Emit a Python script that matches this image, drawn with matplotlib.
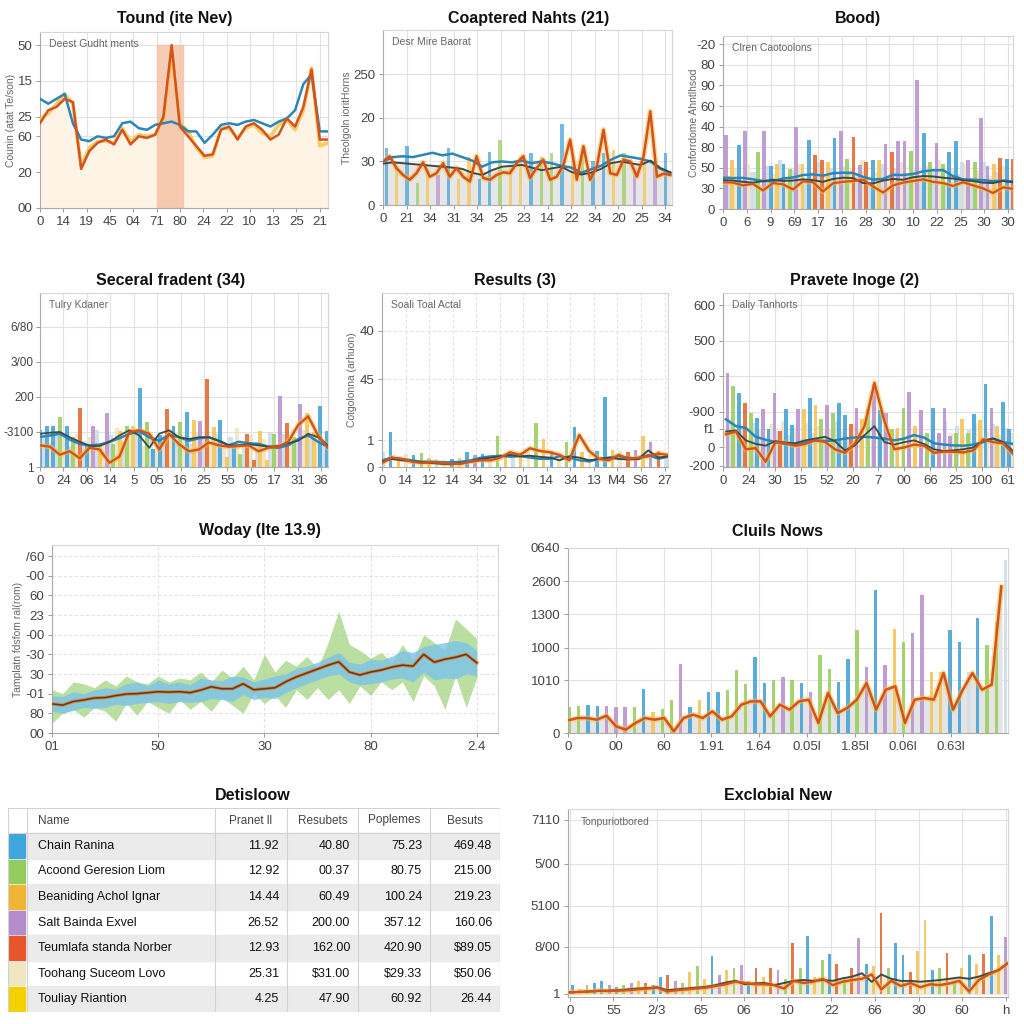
import matplotlib.pyplot as plt
import numpy as np

plt.rcParams["font.family"] = ["Liberation Sans", "DejaVu Sans"]

COLORS = {
    "b": "#48a3d8", "g": "#9ccf63", "y": "#f3c55a", "p": "#b994d0",
    "o": "#e36b33", "l": "#cfdde8", "c": "#efe5c6", "k": "#f5d000",
}
LINE_BLUE = "#2a86b8"
LINE_ORANGE = "#d4521f"
GLOW = "#f6c244"
DARK = "#3f4a45"

# ---------------- panel 1: Tound (ite Nev)
P1_BLUE = [67, 64, 67, 70, 52, 42, 41, 44, 43, 44, 52, 53, 49, 48, 51, 52, 53, 51,
           47, 47, 40, 45, 51, 52, 51, 53, 54, 52, 50, 53, 55, 60, 76, 82, 47, 47]
P1_ORANGE = [52, 60, 62, 67, 65, 24, 35, 40, 42, 39, 48, 39, 44, 43, 45, 56, 100, 50,
             44, 38, 32, 33, 48, 50, 42, 50, 52, 48, 42, 45, 55, 50, 62, 85, 42, 42]
P1_YELLOW = [55, 58, 64, 70, 64, 26, 37, 41, 41, 40, 49, 41, 45, 44, 45, 55, 96, 52,
             47, 37, 31, 32, 49, 49, 43, 49, 51, 46, 44, 51, 54, 48, 60, 86, 38, 40]
P1_SPAN = (14.2, 17.4)
P1_XLABELS = ["0", "14", "19", "45", "04", "71", "80", "24", "22", "10", "13", "25", "21"]
P1_YLABELS = ["00", "20", "60", "25", "15", "50"]
P1_YTICKS = [0, 22, 44, 56, 78, 100]

# ---------------- panel 2: Coaptered Nahts (21)
P2_ORANGE = [10, 11.2, 8.5, 6.9, 5.8, 7.3, 9.8, 6.5, 7.3, 9.6, 6.5, 8.5, 6.5, 5.4, 11.2,
             6.2, 5.8, 6.9, 7.5, 7.3, 9.6, 11.2, 6.2, 8.5, 10.4, 5.8, 6.5, 9.2, 15, 5.8,
             13.5, 5.8, 8.8, 17.3, 7.3, 6.9, 10.4, 10, 6.5, 11.2, 21.5, 6.5, 7.2, 6.9]
P2_BLUE = [10, 11, 11.2, 11, 11.5, 12, 11.4, 11.8, 11, 10.2, 8.8, 9.8, 10, 9.8, 10.2,
           9.6, 10, 9.6, 9, 8.6, 7.4, 8.2, 9, 10.4, 11.4, 11, 10.6, 10, 8.3, 7.4]
P2_DARK = [9.5, 9.8, 9.6, 9.4, 9.2, 9.0, 8.8, 8.6, 8.3, 7.4, 6.9, 8.0, 8.8, 9.0, 9.2,
           8.6, 8.0, 8.4, 8.8, 7.6, 7.0, 7.4, 8.3, 9.6, 10.0, 9.6, 9.2, 10.2, 8.5, 7.5]
P2_BARS = [13, 9, 13.5, 5, 8, 7, 13, 6, 11, 6, 12.2, 15, 9, 11, 12, 11, 12, 18.5, 10,
           12, 10, 12, 12.7, 12, 8, 10, 10, 12]
P2_CODES = ["b", "y", "b", "g", "y", "p", "b", "y", "y", "b", "b", "g", "y", "y", "b",
            "g", "g", "b", "y", "g", "b", "b", "y", "g", "p", "y", "p", "b"]
P2_XLABELS = ["0", "21", "34", "31", "34", "25", "23", "14", "22", "34", "20", "25", "34"]
P2_YLABELS = ["0", "30", "20", "250"]

# ---------------- panel 3: Bood)
P3_BARS = [35.8, 24, 31, 38, 18, 27.6, 37.7, 21, 22, 22, 19.5, 40, 22, 33.5, 26, 23.6,
           22.8, 34.5, 37.7, 24.4, 35, 21.6, 22.8, 23.6, 24, 31.7, 27.8, 33, 33, 28,
           62.8, 37, 23, 32, 22, 27.6, 32.8, 22.8, 23.6, 23, 44.4, 21, 22, 25, 24.4, 24.4]
P3_CODES = ["p", "y", "b", "p", "l", "g", "p", "b", "y", "b", "g", "p", "y", "b", "o", "o",
            "y", "b", "p", "g", "o", "p", "o", "b", "y", "p", "o", "p", "p", "g",
            "p", "b", "g", "p", "g", "b", "b", "l", "p", "g", "p", "p", "y", "o", "b", "o"]
P3_PALE = [16, 20, 14, 22, 18, 12, 21, 17, 24, 15, 19, 22, 13, 18, 23, 16, 20, 14, 21,
           19, 17, 24, 12, 18, 22, 15, 20, 23, 16, 19, 14, 21, 18, 24, 13, 20, 17, 22,
           15, 19, 23, 16, 18, 21, 14]
P3_BLUE = [15.2, 15.0, 15.1, 14.4, 13.6, 13.5, 14.8, 15.3, 16.5, 16.8, 16.2, 17.4, 17.6,
           17.5, 15.6, 14.3, 14.6, 16.6, 16.5, 17.0, 18.3, 18.8, 18.9, 16.0, 14.4, 14.2,
           14.0, 13.5, 13.8, 13.4]
P3_ORANGE = [13.0, 12.8, 11.5, 12.2, 9.0, 12.6, 12.0, 9.5, 13.5, 13.0, 8.5, 12.5, 13.2,
             13.6, 14.2, 11.0, 8.0, 11.5, 12.8, 13.6, 14.4, 13.2, 12.6, 11.2, 13.0, 11.5,
             10.0, 7.8, 10.5, 9.8]
P3_DARK = [14.0, 13.8, 13.2, 12.8, 13.5, 14.2, 13.6, 13.8, 14.4, 14.0, 13.2, 14.6, 15.2,
           15.0, 12.6, 12.4, 13.8, 14.6, 14.2, 15.4, 16.0, 15.8, 15.2, 14.8, 14.0, 13.6,
           12.8, 12.6, 13.6, 13.0]
P3_XLABELS = ["0", "6", "9", "69", "17", "16", "28", "30", "10", "22", "25", "30", "30"]
P3_YLABELS = ["0", "30", "50", "80", "40", "60", "90", "80", "-20"]

# ---------------- panel 4: Seceral fradent (34)
P4_BARS = [1.05, 1.17, 1.16, 1.43, 1.16, 0.86, 1.69, 0.67, 1.17, 0.62, 1.55, 0.67, 1.03,
           1.16, 1.17, 2.27, 1.29, 0.52, 0.92, 1.67, 1.16, 1.29, 1.57, 1.33, 1.31, 2.5,
           1.14, 1.33, 0.29, 0.57, 0.38, 0.95, 0.19, 1.03, 0.19, 0.95, 2.02, 1.27, 0.86,
           1.79, 1.55, 1.0, 1.73, 1.03]
P4_CODES = ["b", "b", "b", "g", "b", "g", "o", "b", "p", "y", "p", "g", "y", "g", "y",
            "b", "g", "b", "b", "o", "b", "g", "b", "y", "p", "o", "y", "b", "y", "b",
            "g", "o", "o", "y", "y", "g", "p", "o", "g", "p", "y", "y", "b", "b"]
P4_PALE = [0.9, 0.7, 1.0, 0.8, 0.6, 0.95, 0.75, 0.85, 1.05, 0.65, 0.9, 1.1, 0.7, 0.8, 1.0,
           0.6, 0.95, 0.85, 0.7, 1.05, 0.75, 0.9, 0.65, 1.0, 0.8, 0.7, 0.95, 0.6, 0.85,
           1.1, 0.75, 0.9, 0.7, 0.8, 1.0, 0.65, 0.95, 0.85, 0.7, 1.05, 0.8, 0.9, 0.75]
P4_BLUE = [0.86, 0.9, 0.95, 0.78, 0.66, 0.62, 0.64, 0.72, 0.82, 0.95, 1.02, 0.85, 0.75,
           0.92, 0.85, 0.75, 0.82, 0.85, 0.75, 0.62, 0.72, 0.68, 0.66, 0.58, 0.55, 0.62,
           0.8, 0.9, 0.72, 0.58]
P4_ORANGE = [0.62, 0.58, 0.35, 0.45, 0.25, 0.55, 0.5, 0.12, 0.3, 1.0, 1.05, 0.95, 0.5,
             0.95, 0.65, 0.45, 0.5, 0.7, 0.62, 0.58, 0.6, 0.62, 0.45, 0.55, 0.58, 0.72,
             1.2, 1.45, 0.9, 0.55]
P4_DARK = [0.95, 0.98, 1.0, 0.85, 0.72, 0.6, 0.6, 0.72, 0.9, 1.05, 0.9, 0.55, 0.95, 1.05,
           0.85, 0.8, 0.85, 0.85, 0.75, 0.62, 0.62, 0.65, 0.62, 0.58, 0.6, 0.68, 0.75,
           0.95, 0.85, 0.62]
P4_XLABELS = ["0", "24", "06", "14", "5", "05", "16", "25", "55", "05", "17", "31", "36"]
P4_YLABELS = ["1", "-3100", "200", "3/00", "6/80"]

# ---------------- panel 5: Results (3)
P5_BARS = [0.55, 1.29, 0.3, 0.5, 0.45, 0.52, 0.35, 0.3, 0.25, 0.3, 0.35, 0.56, 0.45, 0.5,
           0.4, 1.16, 0.45, 0.5, 0.55, 0.6, 1.66, 1.04, 0.6, 0.5, 0.94, 1.5, 0.55, 0.45,
           0.6, 2.62, 0.65, 0.6, 0.55, 0.65, 1.15, 0.94, 0.6, 0.5]
P5_CODES = ["l", "b", "y", "c", "b", "g", "y", "l", "c", "b", "y", "b", "p", "b", "c", "g",
            "y", "l", "y", "c", "g", "y", "b", "c", "g", "b", "y", "c", "b", "b", "y", "c",
            "o", "p", "y", "p", "o", "l"]
P5_ORANGE = [0.15, 0.35, 0.3, 0.2, 0.15, 0.18, 0.15, 0.12, 0.12, 0.2, 0.25, 0.25, 0.35,
             0.55, 0.45, 0.7, 0.6, 0.55, 0.45, 0.25, 1.2, 0.6, 0.3, 0.25, 0.45, 0.3, 0.35,
             0.4, 0.5, 0.45]
P5_DARK = [0.2, 0.3, 0.25, 0.22, 0.18, 0.15, 0.12, 0.1, 0.15, 0.2, 0.3, 0.35, 0.4, 0.45,
           0.4, 0.42, 0.38, 0.35, 0.25, 0.4, 0.35, 0.25, 0.3, 0.35, 0.3, 0.28, 0.3, 0.62,
           0.35, 0.4]
P5_BLUE = [0.25, 0.35, 0.3, 0.25, 0.2, 0.2, 0.18, 0.18, 0.2, 0.25, 0.35, 0.4, 0.42, 0.38,
           0.4, 0.35, 0.3, 0.3, 0.4, 0.35, 0.25, 0.2, 0.3, 0.35, 0.4, 0.35, 0.3, 0.45,
           0.3, 0.38]
P5_XLABELS = ["0", "14", "12", "14", "34", "32", "01", "14", "34", "13", "M4", "S6", "27"]
P5_YLABELS = ["0", "1", "45", "40"]
P5_YTICKS = [0, 1, 3.275, 5.09]

# ---------------- panel 6: Pravete Inoge (2)
P6_BARS = [210, 173, 154, 126, 96, 84, 109, 51, 154, 47, 107, 64, 107, 109, 140, 121, 81,
           121, 98, 124, 91, 65, 110, 79, 109, 178, 105, 98, 51, 56, 110, 156, 61, 105,
           42, 110, 42, 110, 33, 42, 79, 42, 93, 77, 179, 111, 61, 128, 51]
P6_CODES = ["p", "g", "b", "o", "g", "b", "p", "b", "p", "o", "b", "b", "p", "y", "b", "y",
            "g", "p", "g", "b", "b", "o", "p", "y", "g", "p", "b", "p", "g", "y", "g", "p",
            "y", "p", "g", "b", "p", "p", "p", "g", "y", "g", "b", "y", "b", "p", "y", "b",
            "b"]
P6_PALE = [80, 40, 60, 30, 70, 50, 20, 65, 45, 75, 35, 55, 25, 70, 40, 60, 30, 50, 75,
           45, 20, 65, 35, 55, 80, 40, 60, 25, 50, 70, 30, 45, 65, 20, 55, 35, 75, 40,
           60, 30, 50, 70, 25, 45, 65, 35, 55, 40]
P6_ORANGE = [37, 45, -5, -2, -40, 15, 12, 5, 10, 20, 16, -5, -15, 10, 60, 182, 75, -5, 0,
             8, 5, -15, -12, -12, -14, -8, 23, 15, 12, -18]
P6_BLUE = [79, 60, 55, 30, 22, 15, 10, 8, 15, 20, 18, 20, 25, 28, 30, 28, 25, 20, 25, 35,
           28, 12, 8, 6, 5, 8, 15, 25, 15, 10]
P6_DARK = [45, 48, 20, 10, 5, 18, 14, 12, 20, 25, 30, 18, -8, 5, 35, 60, 15, 8, 15, 20,
           10, -5, -10, -8, -5, 0, 20, 25, 15, -10]
P6_XLABELS = ["0", "24", "30", "15", "52", "20", "7", "00", "66", "25", "100", "61"]
P6_YLABELS = ["600", "500", "600", "-900", "f1", "0", "-200"]
P6_YTICKS = [400, 300, 200, 100, 53, 0, -51]

# ---------------- panel 7: Woday (Ite 13.9)
P7_CENTER = [1.48, 1.42, 1.6, 1.68, 1.78, 1.8, 1.9, 1.98, 2.0, 2.05, 2.1, 2.08, 2.1, 2.05,
             2.18, 2.35, 2.25, 2.25, 2.5, 2.2, 2.25, 2.3, 2.6, 2.85, 3.05, 3.25, 3.45, 3.62,
             3.1, 2.95, 3.1, 3.2, 3.35, 3.45, 3.4, 4.0, 3.6, 3.75, 3.85, 4.0, 3.57]
P7_BLUE_HI = [1.9, 1.85, 2.1, 2.0, 2.2, 2.3, 2.25, 2.5, 2.6, 2.4, 2.7, 2.5, 2.6, 2.45, 2.8,
              2.7, 2.65, 2.9, 2.85, 2.6, 2.75, 2.9, 3.0, 3.3, 3.4, 3.6, 3.85, 4.1, 3.6,
              3.5, 3.75, 3.7, 3.9, 4.2, 4.1, 4.4, 4.5, 4.6, 4.7, 4.6, 4.2]
P7_BLUE_LO = [1.1, 1.0, 1.15, 1.3, 1.25, 1.3, 1.45, 1.4, 1.5, 1.55, 1.6, 1.5, 1.6, 1.55,
              1.6, 1.75, 1.7, 1.6, 1.95, 1.7, 1.8, 1.75, 2.05, 2.3, 2.5, 2.7, 2.9, 3.0, 2.6,
              2.45, 2.5, 2.6, 2.75, 2.8, 2.6, 3.1, 2.7, 2.8, 2.75, 3.0, 2.9]
P7_GREEN_HI = [2.2, 2.0, 2.6, 2.5, 2.3, 2.7, 2.4, 2.9, 2.6, 2.5, 2.9, 2.6, 2.8, 2.7, 3.1,
               2.6, 3.2, 2.8, 3.4, 2.7, 4.0, 3.1, 3.7, 3.4, 3.9, 3.3, 4.6, 6.2, 4.5, 4.2,
               3.8, 4.1, 3.6, 4.5, 3.7, 5.0, 4.6, 4.2, 5.8, 5.3, 4.8]
P7_GREEN_LO = [0.5, 1.0, 1.2, 0.8, 1.3, 1.1, 0.6, 1.5, 0.9, 1.6, 1.3, 1.0, 1.7, 1.2, 1.6,
               1.1, 1.8, 1.4, 1.0, 2.0, 1.5, 1.9, 1.3, 2.2, 1.7, 2.3, 1.7, 2.2, 1.5, 2.4,
               1.9, 2.6, 2.2, 2.6, 1.6, 2.9, 2.4, 1.2, 2.9, 1.3, 2.8]
P7_XLABELS = ["01", "50", "30", "80", "2.4"]
P7_YLABELS = ["00", "80", "-01", "30", "-30", "-00", "23", "60", "-00", "/60"]

# ---------------- panel 8: Cluils Nows
P8_ORANGE = [0.38, 0.45, 0.45, 0.4, 0.52, 0.2, 0.1, 0.3, 0.45, 0.4, 0.45, 0.05, 0.45,
             0.55, 0.45, 0.65, 0.4, 0.5, 0.85, 0.95, 0.95, 0.5, 0.85, 0.7, 0.95, 1.0, 0.3,
             1.2, 0.6, 0.75, 1.0, 1.5, 0.7, 1.3, 1.4, 0.3, 1.0, 1.05, 1.0, 1.8, 0.7, 1.3,
             1.8, 1.3, 1.45, 4.4]
P8_BARS = [0.78, 0.8, 0.83, 0.8, 0.8, 0.78, 0.78, 0.78, 1.33, 0.63, 0.73, 0.98, 2.08,
           0.78, 1.0, 1.23, 1.23, 1.28, 1.88, 1.48, 2.28, 1.5, 1.58, 1.68, 1.58, 1.5, 1.23,
           2.33, 1.93, 1.53, 2.23, 3.08, 1.98, 4.28, 2.03, 3.13, 2.73, 3.0, 4.13, 1.83,
           1.83, 3.08, 2.73, 1.83, 3.46, 2.63, 3.33, 5.18]
P8_CODES = ["g", "g", "b", "b", "p", "p", "p", "g", "b", "y", "g", "g", "p", "b", "y", "b",
            "b", "g", "g", "g", "b", "b", "g", "p", "g", "b", "p", "g", "g", "b", "b", "g",
            "p", "b", "p", "y", "g", "p", "p", "y", "y", "b", "b", "l", "b", "g", "g", "l"]
P8_XLABELS = ["0", "00", "60", "1.91", "1.64", "0.05l", "1.85l", "0.06l", "0.63l"]
P8_YLABELS = ["0", "1010", "1000", "1300", "2600", "0640"]
P8_YTICKS = [0, 1.58, 2.56, 3.56, 4.55, 5.55]

# ---------------- table: Detisloow
TABLE_HEADER = ["Name", "Pranet ll", "Resubets", "Poplemes", "Besuts"]
TABLE_NAMES = ["Chain Ranina", "Acoond Geresion Liom", "Beaniding Achol Ignar",
               "Salt Bainda Exvel", "Teumlafa standa Norber", "Toohang Suceom Lovo",
               "Touliay Riantion"]
TABLE_COL1 = ["11.92", "12.92", "14.44", "26.52", "12.93", "25.31", "4.25"]
TABLE_COL2 = ["40.80", "00.37", "60.49", "200.00", "162.00", "$31.00", "47.90"]
TABLE_COL3 = ["75.23", "80.75", "100.24", "357.12", "420.90", "$29.33", "60.92"]
TABLE_COL4 = ["469.48", "215.00", "219.23", "160.06", "$89.05", "$50.06", "26.44"]
TABLE_SWATCH = ["#3fa6dd", "#93cc5c", "#f0b535", "#b58ccb", "#e5542a", "#efe6c4", "#f5d000"]

# ---------------- panel 10: Exclobial New
P10_ORANGE = [0.03, 0.04, 0.05, 0.07, 0.06, 0.07, 0.08, 0.1, 0.12, 0.14, 0.05, 0.08, 0.1,
              0.12, 0.14, 0.18, 0.22, 0.28, 0.25, 0.22, 0.22, 0.2, 0.12, 0.3, 0.25, 0.28,
              0.35, 0.2, 0.28, 0.32, 0.35, 0.45, 0.1, 0.3, 0.18, 0.25, 0.15, 0.22, 0.2,
              0.24, 0.3, 0.05, 0.32, 0.45, 0.55, 0.72]
P10_DARK = [0.03, 0.04, 0.05, 0.06, 0.07, 0.08, 0.1, 0.12, 0.13, 0.15, 0.08, 0.1, 0.12,
            0.14, 0.16, 0.2, 0.26, 0.3, 0.22, 0.24, 0.25, 0.2, 0.25, 0.3, 0.32, 0.3, 0.32,
            0.3, 0.36, 0.4, 0.48, 0.28, 0.45, 0.35, 0.3, 0.3, 0.28, 0.3, 0.32, 0.35, 0.38,
            0.35, 0.4, 0.48, 0.55, 0.72]
P10_BARS = [0.2, 0.1, 0.2, 0.25, 0.3, 0.2, 0.15, 0.2, 0.25, 0.3, 0.25, 0.2, 0.4, 0.45,
            0.3, 0.25, 0.5, 0.65, 0.35, 0.88, 0.45, 0.55, 0.6, 0.67, 0.3, 0.6, 0.4, 0.6,
            0.55, 0.35, 1.2, 0.6, 1.35, 0.4, 0.8, 0.94, 0.7, 0.4, 0.6, 1.3, 0.7, 0.65, 1.9,
            0.6, 1.2, 0.9, 0.5, 1.0, 1.73, 0.55, 0.6, 0.95, 0.3, 0.6, 0.9, 0.7, 0.94, 1.83,
            0.9, 1.34]
P10_CODES = ["b", "y", "g", "b", "b", "p", "b", "g", "p", "y", "o", "b", "b", "o", "p",
             "g", "y", "g", "y", "b", "p", "y", "g", "p", "b", "o", "y", "o", "p", "g",
             "o", "g", "b", "y", "g", "b", "o", "g", "o", "p", "b", "y", "o", "g", "b",
             "b", "o", "y", "y", "b", "g", "o", "g", "y", "b", "y", "o", "b", "y", "p"]
P10_XLABELS = ["0", "55", "2/3", "65", "06", "10", "22", "66", "30", "60", "h"]
P10_YLABELS = ["1", "8/00", "5100", "5/00", "7110"]
P10_YTICKS = [0, 1.1, 2.07, 3.06, 4.1]


def px_rect(left, top, right, bottom):
    return [left / 1024, 1 - bottom / 1024, (right - left) / 1024, (bottom - top) / 1024]


def style_axes(ax, xticks, xlabels, yticks, ylabels, grid_style="-"):
    ax.set_xticks(xticks, xlabels)
    ax.set_yticks(yticks, ylabels)
    ax.tick_params(labelsize=9.5, colors="#999999", labelcolor="#444444",
                   length=3, width=0.7, pad=2.5)
    for spine in ax.spines.values():
        spine.set_color("#d6d6d6")
        spine.set_linewidth(0.8)
    ax.spines["left"].set_color("#aaaaaa")
    ax.spines["bottom"].set_color("#aaaaaa")
    ax.grid(True, color="#e2e2e2", linewidth=0.8, linestyle=grid_style)
    ax.set_axisbelow(True)


def draw_bars(ax, x, heights, codes, width, bottom=0.0, alpha=0.9):
    heights = np.asarray(heights, dtype=float)
    ax.bar(x, heights - bottom, width=width, bottom=bottom,
           color=[COLORS[c] for c in codes], alpha=alpha, zorder=2, linewidth=0)


def draw_pale(ax, x, heights, width, bottom=0.0):
    heights = np.asarray(heights, dtype=float)
    shades = [COLORS["l"] if i % 2 == 0 else COLORS["c"] for i in range(len(heights))]
    ax.bar(x, heights - bottom, width=width, bottom=bottom, color=shades,
           alpha=0.9, zorder=1.5, linewidth=0)


def glow_line(ax, x, y, lw=1.8):
    ax.plot(x, y, color=GLOW, linewidth=lw + 2.2, alpha=0.55, zorder=3,
            solid_capstyle="round")
    ax.plot(x, y, color=LINE_ORANGE, linewidth=lw, zorder=4)


def note(ax, text):
    ax.text(0.03, 0.96, text, transform=ax.transAxes, fontsize=7.5, color="#666666",
            va="top", ha="left", zorder=6)


def side_label(ax, text, xpos):
    ax.text(xpos, 0.5, text, transform=ax.transAxes, rotation=90, fontsize=7.5,
            color="#666666", va="center", ha="center")


fig = plt.figure(figsize=(10.24, 10.24), dpi=100)
fig.patch.set_facecolor("white")

TITLES = [
    ("Tound (ite Nev)", 175, 18), ("Coaptered Nahts (21)", 529, 18), ("Bood)", 858, 18),
    ("Seceral fradent (34)", 171, 280), ("Results (3)", 515, 280),
    ("Pravete Inoge (2)", 855, 280), ("Woday (Ite 13.9)", 260, 531),
    ("Cluils Nows", 778, 531), ("Detisloow", 253, 795), ("Exclobial New", 778, 795),
]
for text, cx, cy in TITLES:
    fig.text(cx / 1024, 1 - cy / 1024, text, fontsize=11.5, fontweight="bold",
             ha="center", va="center", color="#111111")

# panel 1
ax = fig.add_axes(px_rect(40, 32, 328, 208))
x = np.arange(len(P1_ORANGE))
ax.set_xlim(0, len(x) - 1)
ax.set_ylim(0, 108)
ax.fill_between(x, P1_ORANGE, color="#fdf4e6", zorder=1)
ax.axvspan(*P1_SPAN, ymax=100 / 108, color="#f6c3a7", alpha=0.85, zorder=1.5)
ax.plot(x, P1_YELLOW, color=GLOW, linewidth=2.6, alpha=0.8, zorder=3)
ax.plot(x, P1_BLUE, color=LINE_BLUE, linewidth=1.8, zorder=3.5)
ax.plot(x, P1_ORANGE, color=LINE_ORANGE, linewidth=1.8, zorder=4)
style_axes(ax, np.linspace(0, 34, len(P1_XLABELS)), P1_XLABELS, P1_YTICKS, P1_YLABELS)
note(ax, "Deest Gudht ments")
side_label(ax, "Counin (atat Te/son)", -0.1)

# panel 2
ax = fig.add_axes(px_rect(383, 30, 672, 205))
xo = np.arange(len(P2_ORANGE))
xl = np.linspace(0, len(P2_ORANGE) - 1, len(P2_BLUE))
ax.set_xlim(0, 43.25)
ax.set_ylim(0, 40.2)
ax.fill_between(xl, P2_DARK, color="#e6e6e6", zorder=1)
draw_bars(ax, np.linspace(0.5, 42.25, len(P2_BARS)), P2_BARS, P2_CODES, 0.5, alpha=0.75)
ax.plot(xl, P2_BLUE, color=LINE_BLUE, linewidth=1.8, zorder=3.5)
ax.plot(xl, P2_DARK, color=DARK, linewidth=1.4, zorder=3.6)
glow_line(ax, xo, P2_ORANGE)
style_axes(ax, np.linspace(0, 42.25, len(P2_XLABELS)), P2_XLABELS, [0, 10, 20, 30],
           P2_YLABELS)
note(ax, "Desr Mire Baorat")
side_label(ax, "Theolgoln ioritHorns", -0.125)

# panel 3
ax = fig.add_axes(px_rect(723, 36, 1013, 209))
ax.set_xlim(0, 29)
ax.set_ylim(0, 84)
draw_pale(ax, np.linspace(0.6, 28.6, len(P3_PALE)), P3_PALE, 0.45)
draw_bars(ax, np.linspace(0.3, 29.0, len(P3_BARS)), P3_BARS, P3_CODES, 0.38)
xl = np.linspace(0, 29, len(P3_BLUE))
ax.plot(xl, P3_BLUE, color=LINE_BLUE, linewidth=1.8, zorder=3.5)
ax.plot(xl, P3_DARK, color=DARK, linewidth=1.4, zorder=3.6)
glow_line(ax, xl, P3_ORANGE, lw=1.6)
style_axes(ax, np.linspace(0, 28.5, len(P3_XLABELS)), P3_XLABELS,
           np.arange(0, 90, 10), P3_YLABELS)
note(ax, "Clren Caotoolons")
side_label(ax, "Conforrdome Ahntlhsod", -0.1)

# panel 4
ax = fig.add_axes(px_rect(40, 293, 328, 467))
ax.set_xlim(0, 29)
ax.set_ylim(0, 4.97)
draw_pale(ax, np.linspace(0.35, 28.6, len(P4_PALE)), P4_PALE, 0.45)
draw_bars(ax, np.linspace(0, 28.9, len(P4_BARS)), P4_BARS, P4_CODES, 0.4)
xl = np.linspace(0, 29, len(P4_BLUE))
ax.plot(xl, P4_BLUE, color=LINE_BLUE, linewidth=1.8, zorder=3.5)
ax.plot(xl, P4_DARK, color=DARK, linewidth=1.3, zorder=3.6)
glow_line(ax, xl, P4_ORANGE, lw=1.7)
style_axes(ax, np.linspace(0, 28.3, len(P4_XLABELS)), P4_XLABELS, [0, 1, 2, 3, 4],
           P4_YLABELS)
ax.tick_params(axis="y", labelsize=8.5, pad=1.5)
note(ax, "Tulry Kdaner")

# panel 5
ax = fig.add_axes(px_rect(382, 293, 668, 467))
ax.set_xlim(0, 29)
ax.set_ylim(0, 6.5)
draw_bars(ax, np.linspace(0.1, 28.8, len(P5_BARS)), P5_BARS, P5_CODES, 0.35)
xl = np.linspace(0, 29, len(P5_BLUE))
ax.plot(xl, P5_BLUE, color=LINE_BLUE, linewidth=1.6, zorder=3.5)
ax.plot(xl, P5_DARK, color=DARK, linewidth=1.4, zorder=3.6)
glow_line(ax, xl, P5_ORANGE, lw=1.7)
style_axes(ax, np.linspace(0, 28.65, len(P5_XLABELS)), P5_XLABELS, P5_YTICKS,
           P5_YLABELS, grid_style=(0, (3, 2)))
note(ax, "Soali Toal Actal")
side_label(ax, "Cotgolonna (arhuon)", -0.105)

# panel 6
ax = fig.add_axes(px_rect(723, 293, 1013, 467))
ax.set_xlim(0, 29)
ax.set_ylim(-55, 435)
draw_pale(ax, np.linspace(0.6, 28.8, len(P6_PALE)), P6_PALE, 0.45, bottom=-55)
draw_bars(ax, np.linspace(0.45, 28.6, len(P6_BARS)), P6_BARS, P6_CODES, 0.38, bottom=-55)
xl = np.linspace(0.3, 29, len(P6_BLUE))
ax.plot(xl, P6_BLUE, color=LINE_BLUE, linewidth=1.8, zorder=3.5)
ax.plot(xl, P6_DARK, color=DARK, linewidth=1.3, zorder=3.6)
glow_line(ax, xl, P6_ORANGE, lw=1.7)
style_axes(ax, np.linspace(0, 28.5, len(P6_XLABELS)), P6_XLABELS, P6_YTICKS, P6_YLABELS)
note(ax, "Daliy Tanhorts")

# panel 7
ax = fig.add_axes(px_rect(52, 545, 498, 733))
x = np.linspace(0, 4, len(P7_CENTER))
ax.set_xlim(0, 4.2)
ax.set_ylim(0, 9.56)
ax.fill_between(x, P7_GREEN_LO, P7_GREEN_HI, color="#a9d78a", alpha=0.8, zorder=1,
                linewidth=0)
ax.fill_between(x, P7_BLUE_LO, P7_BLUE_HI, color="#7cc3ea", alpha=0.8, zorder=2,
                linewidth=0)
ax.plot(x, P7_CENTER, color="#e0802a", linewidth=2.4, zorder=3)
ax.plot(x, P7_CENTER, color="#5a3a2c", linewidth=1.1, zorder=4)
style_axes(ax, [0, 1, 2, 3, 4], P7_XLABELS, np.arange(10), P7_YLABELS,
           grid_style=(0, (3, 2)))
side_label(ax, "Tamplatn fdsfom ral(rom)", -0.076)

# panel 8
ax = fig.add_axes(px_rect(568, 548, 1008, 733))
ax.set_xlim(0, 9.2)
ax.set_ylim(0, 5.55)
xl = np.linspace(0, 9.06, len(P8_ORANGE))
ax.fill_between(xl, P8_ORANGE, color="#e4e4e4", zorder=1)
draw_bars(ax, np.linspace(0.03, 9.15, len(P8_BARS)), P8_BARS, P8_CODES, 0.07)
glow_line(ax, xl, P8_ORANGE, lw=1.8)
style_axes(ax, np.arange(len(P8_XLABELS)), P8_XLABELS, P8_YTICKS, P8_YLABELS)

# table
tax = fig.add_axes(px_rect(8, 808, 500, 1012))
tax.set_xlim(0, 492)
tax.set_ylim(204, 0)
tax.axis("off")
col_edges = [0, 19, 207, 279, 350, 422, 492]
header_h = 25
row_h = (204 - header_h) / len(TABLE_NAMES)
values = [TABLE_COL1, TABLE_COL2, TABLE_COL3, TABLE_COL4]
tax.text(30, header_h / 2, TABLE_HEADER[0], fontsize=8.5, color="#444444", va="center")
for j, head in enumerate(TABLE_HEADER[1:]):
    cx = (col_edges[j + 2] + col_edges[j + 3]) / 2
    tax.text(cx, header_h / 2, head, fontsize=8.5, color="#444444", va="center",
             ha="center")
for i, name in enumerate(TABLE_NAMES):
    top = header_h + i * row_h
    if i % 2 == 0:
        tax.add_patch(plt.Rectangle((19, top), 473, row_h, color="#ebebeb", zorder=0))
    tax.add_patch(plt.Rectangle((1, top + 1), 16, row_h - 2, color=TABLE_SWATCH[i],
                                zorder=1))
    tax.text(30, top + row_h / 2, name, fontsize=9, color="#111111", va="center")
    for j, col in enumerate(values):
        tax.text(col_edges[j + 3] - 8, top + row_h / 2, col[i], fontsize=9,
                 color="#111111", va="center", ha="right")
for xe in col_edges[1:]:
    tax.plot([xe, xe], [0, 204], color="#d2d2d2", linewidth=0.8, zorder=2)
tax.plot([0, 492, 492, 0, 0], [0, 0, 204, 204, 0], color="#d2d2d2", linewidth=0.8,
         zorder=2)
tax.plot([0, 492], [header_h, header_h], color="#d2d2d2", linewidth=0.8, zorder=2)

# panel 10
ax = fig.add_axes(px_rect(568, 809, 1008, 997))
ax.set_xlim(0, 10.1)
ax.set_ylim(-0.08, 4.35)
xl = np.linspace(0.04, 10.1, len(P10_ORANGE))
ax.fill_between(xl, P10_DARK, color="#eeeadc", zorder=1)
draw_bars(ax, np.linspace(0.1, 10.05, len(P10_BARS)), P10_BARS, P10_CODES, 0.065)
ax.plot(xl, P10_DARK, color=DARK, linewidth=1.4, zorder=3.6)
glow_line(ax, xl, P10_ORANGE, lw=1.7)
style_axes(ax, np.linspace(0.04, 10.05, len(P10_XLABELS)), P10_XLABELS, P10_YTICKS,
           P10_YLABELS)
note(ax, "Tonpuriotbored")

fig.savefig("out.png", dpi=100, facecolor="white")
